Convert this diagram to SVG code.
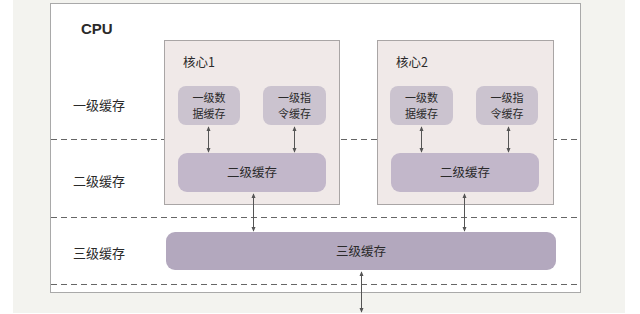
<svg xmlns="http://www.w3.org/2000/svg" width="640" height="314" viewBox="0 0 640 314">
<style>
text{font-family:"Noto Sans CJK SC","Liberation Sans",sans-serif;fill:#2a2a2a}
.lbl{font-size:13px}
.ctr{text-anchor:middle;font-size:12.5px}
.two{text-anchor:middle;font-size:11px}
.core{fill:#f0e9e8;stroke:#a9a5a5;stroke-width:1}
.l1{fill:#cbc3cf}
.l2{fill:#c2b7ca}
.l3{fill:#b3a8be}
.dash{stroke:#666;stroke-width:1;stroke-dasharray:6,4}
.con{stroke:#555;stroke-width:1;fill:none;marker-start:url(#ah);marker-end:url(#ah)}
</style>
<defs>
<marker id="ah" viewBox="0 0 6 6" refX="5" refY="3" markerWidth="5" markerHeight="5" orient="auto-start-reverse"><path d="M0,0.5L6,3L0,5.5z" fill="#555"/></marker>
</defs>
<rect x="0" y="0" width="640" height="314" fill="#ffffff"/>
<rect x="13" y="0" width="612" height="313" fill="#f3f3ef"/>
<g id="cpu">
<rect x="50.5" y="3.5" width="530" height="289" fill="#ffffff" stroke="#a9a9a9"/>
<text x="81" y="34" style="font-family:'Liberation Sans',sans-serif;font-weight:bold;font-size:15px" fill="#111">CPU</text>
</g>
<g id="levels">
<line class="dash" x1="51" y1="139.5" x2="580" y2="139.5"/>
<line class="dash" x1="51" y1="217.5" x2="580" y2="217.5"/>
<line class="dash" x1="51" y1="284.5" x2="580" y2="284.5"/>
<text class="lbl" x="73" y="110">一级缓存</text>
<text class="lbl" x="73" y="186">二级缓存</text>
<text class="lbl" x="73" y="258">三级缓存</text>
</g>
<g id="core1">
<rect class="core" x="164.5" y="40.5" width="175" height="164"/>
<text x="183" y="67" font-size="12.5">核心1</text>
</g>
<g id="core2">
<rect class="core" x="377.5" y="40.5" width="176" height="164"/>
<text x="396" y="67" font-size="12.5">核心2</text>
</g>
<g id="l1d-1"><rect class="l1" x="178" y="86" width="62" height="39" rx="8"/><text class="two" x="209" y="102">一级数</text><text class="two" x="209" y="118">据缓存</text></g>
<g id="l1i-1"><rect class="l1" x="263" y="86" width="63" height="39" rx="8"/><text class="two" x="294.5" y="102">一级指</text><text class="two" x="294.5" y="118">令缓存</text></g>
<g id="l1d-2"><rect class="l1" x="390" y="86" width="63" height="39" rx="8"/><text class="two" x="421.5" y="102">一级数</text><text class="two" x="421.5" y="118">据缓存</text></g>
<g id="l1i-2"><rect class="l1" x="476" y="86" width="62" height="39" rx="8"/><text class="two" x="507" y="102">一级指</text><text class="two" x="507" y="118">令缓存</text></g>
<g id="l2-1"><rect class="l2" x="178" y="153" width="148" height="39" rx="9"/><text class="ctr" x="252" y="177">二级缓存</text></g>
<g id="l2-2"><rect class="l2" x="391" y="153" width="148" height="39" rx="9"/><text class="ctr" x="465" y="177">二级缓存</text></g>
<g id="l3"><rect class="l3" x="166" y="232" width="390" height="38" rx="9"/><text class="ctr" x="361" y="256">三级缓存</text></g>
<g id="connectors">
<line class="con" x1="208.5" y1="127" x2="208.5" y2="152"/>
<line class="con" x1="294.5" y1="127" x2="294.5" y2="152"/>
<line class="con" x1="421.5" y1="127" x2="421.5" y2="152"/>
<line class="con" x1="508.5" y1="127" x2="508.5" y2="152"/>
<line class="con" x1="253.5" y1="194" x2="253.5" y2="231"/>
<line class="con" x1="464.5" y1="194" x2="464.5" y2="231"/>
<line class="con" x1="361.5" y1="272" x2="361.5" y2="312"/>
</g>
</svg>
